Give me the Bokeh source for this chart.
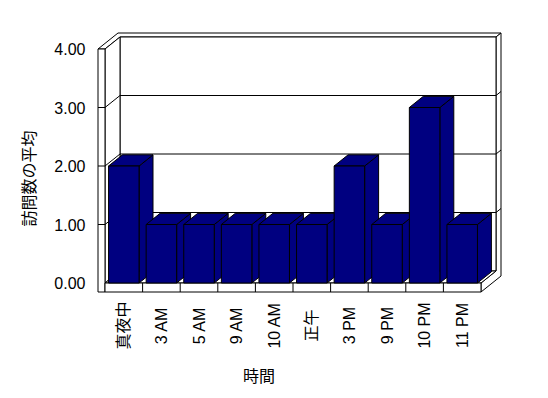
import math
from bokeh.plotting import figure
from bokeh.models import Range1d
from bokeh.core.properties import value
from bokeh.embed import file_html
from bokeh.resources import INLINE

# ---- data ----
categories = ["真夜中", "3 AM", "5 AM", "9 AM", "10 AM", "正午", "3 PM", "9 PM", "10 PM", "11 PM"]
values = [2, 1, 1, 1, 1, 1, 2, 1, 3, 1]
y_ticks = [0, 1, 2, 3, 4]
y_tick_labels = ["0.00", "1.00", "2.00", "3.00", "4.00"]
x_title = "時間"
y_title = "訪問数の平均"

# ---- layout / scale ----
W, H = 548, 398
X0, Y0 = 104.5, 282.5      # pixel of (category 0 left edge, value 0)
CAT_PX, VAL_PX = 37.6, 58.5
FONT = value("'Liberation Sans', 'Noto Sans CJK JP'")
NAVY = "#000080"

def to_x(px):
    return (px - X0) / CAT_PX

def to_y(py):
    return (Y0 - py) / VAL_PX

n = len(categories)
VMAX = y_ticks[-1]
DX = 15 / CAT_PX            # depth offset (data units) for depth 1
DY = 12 / VAL_PX
WALL = 7 / CAT_PX           # left wall thickness
FLOOR = 9 / VAL_PX          # floor thickness
BT = 1 / 3                  # back wall thickness in depth units
BW = 30.5 / CAT_PX          # bar width
BD = 0.93                   # bar depth

def P(x, v, d):
    return (x + d * DX, v + d * DY)

def poly(pts):
    return [p[0] for p in pts], [p[1] for p in pts]

p = figure(width=W, height=H, output_backend="svg", toolbar_location=None,
           x_axis_location=None, y_axis_location=None, title=None,
           x_range=Range1d(to_x(0), to_x(W)), y_range=Range1d(to_y(H), to_y(0)),
           min_border=0)
p.outline_line_color = None
p.grid.visible = False
p.background_fill_color = "white"
p.border_fill_color = "white"

# ---- walls and floor ----
walls = [
    [P(-WALL, VMAX, 0), P(0, VMAX, 0), P(0, VMAX, 1), P(n, VMAX, 1), P(n, VMAX, 1 + BT), P(-WALL, VMAX, 1 + BT)],
    [P(n, -FLOOR, 0), P(n, -FLOOR, 1 + BT), P(n, VMAX, 1 + BT), P(n, VMAX, 1), P(n, 0, 1), P(n, 0, 0)],
    [P(0, 0, 1), P(n, 0, 1), P(n, VMAX, 1), P(0, VMAX, 1)],
    [P(0, 0, 0), P(0, 0, 1), P(0, VMAX, 1), P(0, VMAX, 0)],
    [P(0, 0, 0), P(n, 0, 0), P(n, 0, 1), P(0, 0, 1)],
    [P(-WALL, -FLOOR, 0), P(0, -FLOOR, 0), P(0, VMAX, 0), P(-WALL, VMAX, 0)],
    [P(0, -FLOOR, 0), P(n, -FLOOR, 0), P(n, 0, 0), P(0, 0, 0)],
]
wx, wy = zip(*[poly(w) for w in walls])
p.patches(list(wx), list(wy), fill_color="white", line_color="black", line_width=1)

# gridlines and ticks
gx, gy = [], []
for v in y_ticks[1:-1]:
    xs, ys = poly([P(0, v, 0), P(0, v, 1), P(n, v, 1), P(n, v, 1 + BT)])
    gx.append(xs); gy.append(ys)
    xs, ys = poly([P(-WALL, v, 0), P(0, v, 0)])
    gx.append(xs); gy.append(ys)
for i in range(1, n):
    xs, ys = poly([P(i, -FLOOR, 0), P(i, 0, 0)])
    gx.append(xs); gy.append(ys)
p.multi_line(gx, gy, line_color="black", line_width=1)

# ---- bars ----
bx, by = [], []
for i, h in enumerate(values):
    xl = i + 0.5 - BW / 2
    xr = i + 0.5 + BW / 2
    faces = [
        [P(xr, 0, 0), P(xr, h, 0), P(xr, h, BD), P(xr, 0, BD)],
        [P(xl, h, 0), P(xr, h, 0), P(xr, h, BD), P(xl, h, BD)],
        [P(xl, 0, 0), P(xr, 0, 0), P(xr, h, 0), P(xl, h, 0)],
    ]
    for f in faces:
        xs, ys = poly(f)
        bx.append(xs); by.append(ys)
p.patches(bx, by, fill_color=NAVY, line_color="black", line_width=1)

# ---- texts ----
p.text(x=[to_x(85)] * len(y_ticks), y=y_ticks, text=y_tick_labels,
       text_font=FONT, text_font_size="16px", text_align="right",
       text_baseline="middle", text_color="black")
p.text(x=[i + 0.5 for i in range(n)], y=[to_y(325)] * n, text=categories,
       angle=math.pi / 2, text_font=FONT, text_font_size="16px",
       text_align="center", text_baseline="middle", text_color="black")
p.text(x=[to_x(28.5)], y=[to_y(178)], text=[y_title], angle=math.pi / 2,
       text_font=FONT, text_font_size="16px", text_align="center",
       text_baseline="middle", text_color="black")
p.text(x=[to_x(258.5)], y=[to_y(375.5)], text=[x_title],
       text_font=FONT, text_font_size="16px", text_align="center",
       text_baseline="middle", text_color="black")

open("out.html", "w").write(file_html(p, INLINE))
